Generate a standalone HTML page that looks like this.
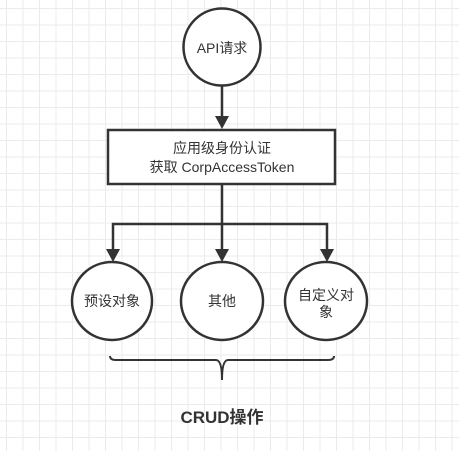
<!DOCTYPE html>
<html><head><meta charset="utf-8"><style>
html,body{margin:0;padding:0;background:#fff;}
body{width:459px;height:451px;overflow:hidden;
background-image:linear-gradient(#ebebeb 1px,transparent 1px),linear-gradient(90deg,#ebebeb 1px,transparent 1px);
background-size:16.5px 16.5px;background-position:6px 8px;}
svg{position:absolute;left:0;top:0;}
text{font-family:"Liberation Sans","Noto Sans CJK SC",sans-serif;fill:#333;}
</style></head><body>
<svg width="459" height="451" viewBox="0 0 459 451">
<g stroke="#333" stroke-width="2.5" fill="#fff">
<circle cx="222" cy="47" r="38.5"/>
<rect x="108" y="130" width="227" height="54"/>
<ellipse cx="112" cy="301" rx="40" ry="39"/>
<ellipse cx="222" cy="301" rx="41" ry="39"/>
<ellipse cx="326" cy="301" rx="41" ry="39"/>
</g>
<g stroke="#333" stroke-width="2.5" fill="none">
<path d="M222 86 V118"/>
<path d="M222 184 V250"/>
<path d="M113 250 V224 H327 V250"/>
<path d="M110 356 Q110 360 116 360 H216 Q222 360 222 380 Q222 360 228 360 H328 Q334 360 334 356" stroke-width="2"/>
</g>
<g fill="#333">
<path d="M215 116 L229 116 L222 129 Z"/>
<path d="M106 249 L120 249 L113 262 Z"/>
<path d="M215 249 L229 249 L222 262 Z"/>
<path d="M320 249 L334 249 L327 262 Z"/>
</g>
<g font-size="14" text-anchor="middle">
<text x="222" y="53">API请求</text>
<text x="222" y="153">应用级身份认证</text>
<text x="222" y="172">获取 CorpAccessToken</text>
<text x="112" y="306">预设对象</text>
<text x="222" y="306">其他</text>
<text x="326" y="300">自定义对</text>
<text x="326" y="317">象</text>
<text x="222" y="423" font-size="17" font-weight="bold">CRUD操作</text>
</g>
</svg>
</body></html>
